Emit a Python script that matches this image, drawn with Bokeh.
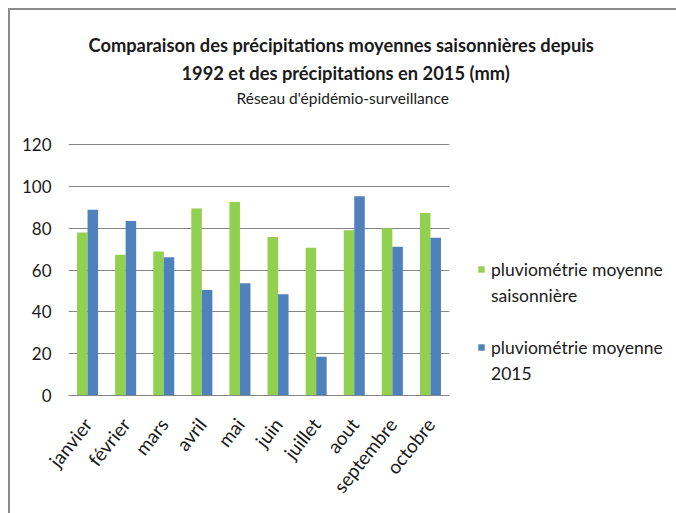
import math
from bokeh.plotting import figure
from bokeh.models import FactorRange, Range1d, Legend, LegendItem, SingleIntervalTicker, Title
from bokeh.transform import dodge
from bokeh.models import ColumnDataSource
from bokeh.embed import file_html
from bokeh.resources import INLINE

months = ["janvier", "février", "mars", "avril", "mai", "juin", "juillet", "aout", "septembre", "octobre"]
moyenne_saisonniere = [78, 67.3, 68.8, 89.4, 92.5, 75.8, 70.6, 79, 80, 87.3]
moyenne_2015 = [88.8, 83.5, 66.1, 50.5, 53.7, 48.4, 18.5, 95.3, 71.1, 75.4]
series_a_lines = ["pluviométrie moyenne", "saisonnière"]
series_b_lines = ["pluviométrie moyenne", "2015"]
title_lines = ["Comparaison des précipitations moyennes saisonnières depuis",
               "1992 et des précipitations en 2015 (mm)"]
subtitle = "Réseau d'épidémio-surveillance"

FONT = "Lato"
GREEN = "#92D050"
BLUE = "#4F81BD"
GRID = "#868686"
TXT = "#1a1a1a"

src = ColumnDataSource(dict(m=months, a=moyenne_saisonniere, b=moyenne_2015))

p = figure(x_range=FactorRange(*months, range_padding=0), y_range=Range1d(0, 120.5),
           width=658, height=503, output_backend="svg", toolbar_location=None,
           min_border_left=58, min_border_right=219, min_border_top=133, min_border_bottom=118,
           frame_width=381, frame_height=252,
           styles={"border-top": "2px solid #8c8c8c", "border-left": "2px solid #8c8c8c",
                   "margin-left": "8px", "margin-top": "8px"})
p.outline_line_color = None

bw = 0.276
r1 = p.vbar(x=dodge("m", -bw / 2, range=p.x_range), top="a", width=bw, source=src,
            fill_color=GREEN, line_color=None)
r2 = p.vbar(x=dodge("m", bw / 2, range=p.x_range), top="b", width=bw, source=src,
            fill_color=BLUE, line_color=None)
# empty, invisible renderer used only for the legend's continuation lines
r_blank = p.vbar(x=[], top=[], width=bw, fill_alpha=0, line_alpha=0)

p.xgrid.grid_line_color = None
p.ygrid.grid_line_color = GRID
p.ygrid.grid_line_width = 1
p.yaxis.ticker = SingleIntervalTicker(interval=20)
p.yaxis.axis_line_color = None
p.yaxis.major_tick_line_color = None
p.yaxis.minor_tick_line_color = None
p.yaxis.major_label_standoff = 11
p.yaxis.major_label_text_font = FONT
p.yaxis.major_label_text_font_size = "17px"
p.yaxis.major_label_text_color = TXT

p.xaxis.axis_line_color = GRID
p.xaxis.major_tick_line_color = None
p.xaxis.minor_tick_line_color = None
p.xaxis.major_label_orientation = 0.9
p.xaxis.major_label_standoff = 19
p.xaxis.major_label_text_font = FONT
p.xaxis.major_label_text_font_size = "19px"
p.xaxis.major_label_text_color = TXT

# titles stack upward from the frame: nearest first (first one is a blank spacer)
p.add_layout(Title(text=" ", standoff=33, text_font=FONT, text_font_size="1px"), "above")
p.add_layout(Title(text=subtitle, align="left", offset=168, standoff=2,
                   text_font=FONT, text_font_size="15.5px", text_font_style="normal",
                   text_color=TXT), "above")
p.add_layout(Title(text=title_lines[1], align="left", offset=113, standoff=4,
                   text_font=FONT, text_font_size="18.3px", text_font_style="bold",
                   text_color=TXT), "above")
p.add_layout(Title(text=title_lines[0], align="left", offset=20, standoff=4,
                   text_font=FONT, text_font_size="18.3px", text_font_style="bold",
                   text_color=TXT), "above")

legend = Legend(items=[LegendItem(label=series_a_lines[0], renderers=[r1]),
                       LegendItem(label=series_a_lines[1], renderers=[r_blank]),
                       LegendItem(label=" ", renderers=[r_blank]),
                       LegendItem(label=series_b_lines[0], renderers=[r2]),
                       LegendItem(label=series_b_lines[1], renderers=[r_blank])],
                location=(28, 9), padding=0, margin=0, spacing=0,
                glyph_width=8, glyph_height=8, label_standoff=6, label_height=26,
                label_text_font=FONT, label_text_font_size="17.5px",
                label_text_color=TXT,
                border_line_color=None, background_fill_alpha=0)
p.add_layout(legend, "right")

open("out.html", "w").write(file_html(p, INLINE))
